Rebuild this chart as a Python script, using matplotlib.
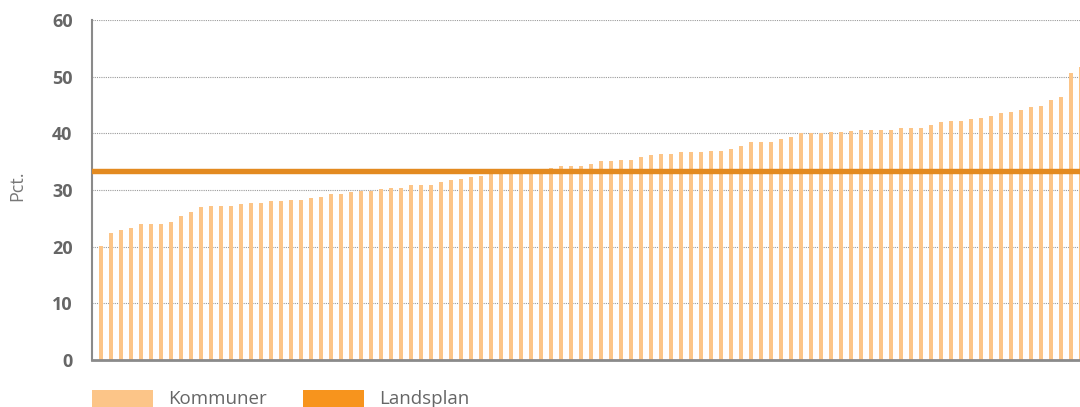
import matplotlib
matplotlib.use("Agg")
import matplotlib.pyplot as plt
import numpy as np
from matplotlib.patches import Rectangle

# Share per municipality (sorted), plus the national level
kommuner = [
    20.1, 22.4, 22.9, 23.3, 24.0, 24.0, 24.0, 24.4, 25.4, 26.1,
    27.0, 27.2, 27.2, 27.2, 27.5, 27.7, 27.7, 28.0, 28.0, 28.2,
    28.2, 28.6, 28.8, 29.3, 29.3, 29.6, 29.9, 29.9, 30.2, 30.4,
    30.4, 30.9, 30.9, 30.9, 31.4, 31.8, 31.9, 32.3, 32.5, 33.0,
    33.1, 33.2, 33.3, 33.5, 33.7, 33.9, 34.2, 34.2, 34.2, 34.6,
    35.1, 35.1, 35.3, 35.3, 35.8, 36.2, 36.4, 36.4, 36.7, 36.7,
    36.7, 36.9, 36.9, 37.2, 37.8, 38.5, 38.5, 38.5, 39.0, 39.4,
    40.0, 40.0, 40.0, 40.2, 40.2, 40.4, 40.6, 40.6, 40.6, 40.6,
    40.9, 40.9, 40.9, 41.5, 42.0, 42.2, 42.2, 42.5, 42.7, 43.1,
    43.6, 43.8, 44.1, 44.6, 44.8, 45.9, 46.4, 50.6, 51.7,
]
landsplan = 33.4
yticks = [0, 10, 20, 30, 40, 50, 60]
legend_labels = ["Kommuner", "Landsplan"]

BAR_COLOR = "#FCC588"
LINE_COLOR = "#E38A20"
LEGEND_LINE = "#F7941D"
TEXT = "#666666"

fig = plt.figure(figsize=(10.8, 4.07), dpi=100)
W, H = 1080, 407
# axes from x=92px, y 20..360px; extends slightly past the right edge
left, right, top, bottom = 92, 1086, 20, 360
ax = fig.add_axes([left / W, 1 - bottom / H, (right - left) / W, (bottom - top) / H])

x = np.arange(len(kommuner))
ax.bar(x, kommuner, width=0.4, color=BAR_COLOR, zorder=2)
ax.axhline(landsplan, color=LINE_COLOR, lw=3.9, zorder=3)

ax.set_xlim(-0.9, -0.9 + (right - left) / 10)
ax.set_ylim(0, 60)
ax.set_yticks(yticks)
ax.set_xticks([])
ax.tick_params(axis="y", length=0, pad=14)
for lab in ax.get_yticklabels():
    lab.set_fontfamily("Open Sans")
    lab.set_fontweight("bold")
    lab.set_fontsize(13)
    lab.set_color(TEXT)

ax.grid(axis="y", linestyle=(0, (1, 1)), color="#9a9a9a", lw=0.8, zorder=1)
for s in ("top", "right"):
    ax.spines[s].set_visible(False)
ax.spines["left"].set_color("#8a8a8a")
ax.spines["left"].set_linewidth(1.5)
ax.spines["bottom"].set_color("#8a8a8a")
ax.spines["bottom"].set_linewidth(2)

fig.text(17 / W, 1 - 186 / H, "Pct.", rotation=90, ha="center", va="center",
         fontsize=13, color="#777777", fontfamily="Open Sans")

# legend drawn along the bottom edge
for (px, color), label in zip([(92, BAR_COLOR), (303, LEGEND_LINE)], legend_labels):
    fig.patches.append(Rectangle((px / W, 0), 61 / W, 17 / H, transform=fig.transFigure,
                                 facecolor=color, edgecolor="none"))
    fig.text((px + 76) / W, 1 - 399 / H, label, ha="left", va="center",
             fontsize=13.5, color=TEXT, fontfamily="Open Sans")

fig.savefig("out.png", dpi=100)
